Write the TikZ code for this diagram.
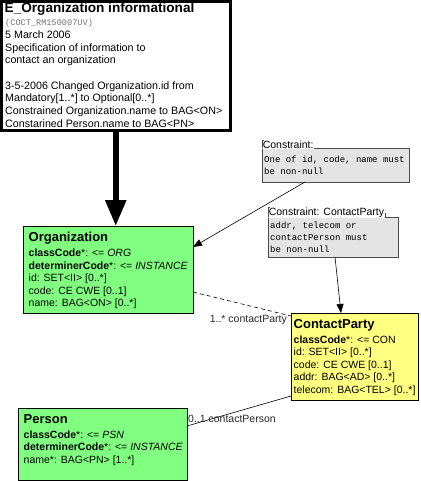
\documentclass[tikz,border=0pt]{standalone}
\usepackage{fontspec}
\setmainfont{Liberation Sans}
\setmonofont{Liberation Mono}
\usetikzlibrary{arrows.meta}
\usetikzlibrary{shadows}

\definecolor{classgreen}{HTML}{80FF80}
\definecolor{classyellow}{HTML}{FFFF80}
\definecolor{notegray}{HTML}{E4E4E4}

\tikzset{
	classbox/.style={draw, line width=0.8pt, anchor=north west, inner sep=0pt, outer sep=0pt},
	% anchored at the baseline of the last line
	classtext/.style={anchor=base west, align=left, inner sep=0pt, font=\fontsize{10.5}{12.6}\selectfont},
	notebox/.style={draw=black!70, fill=notegray, line width=0.8pt, anchor=north west, inner sep=0pt, outer sep=0pt,
		drop shadow={shadow xshift=1.2pt, shadow yshift=-1.2pt, fill=black!55, opacity=1}},
	notelabel/.style={fill=white, anchor=south west, inner sep=0.8pt, outer sep=0pt, font=\fontsize{10.5}{12}\selectfont},
	notetext/.style={anchor=base west, align=left, inner sep=0pt, font=\ttfamily\fontsize{9}{12}\selectfont},
	notetick/.style={draw=black!70, line width=0.6pt},
	rolelabel/.style={inner sep=0pt, font=\fontsize{10.5}{12}\selectfont, text=black!85},
	assoc/.style={line width=0.6pt},
	dep/.style={line width=0.6pt, -{Triangle[length=9pt,width=7pt]}}
}

\begin{document}
\begin{tikzpicture}[x=1pt,y=-1pt]
	\useasboundingbox (0,0) rectangle (420,481);
	
	% header note
	\node[draw, line width=3pt, anchor=north west, inner sep=0pt, outer sep=0pt,
		minimum width=228.5pt, minimum height=129.5pt] (hdr) at (1.5,1.5) {};
	\node[anchor=base west, inner sep=0pt, font=\bfseries\fontsize{13.6}{15}\selectfont] (hdrtitle) at (4.5,13) {E\_Organization informational};
	\node[anchor=base west, inner sep=0pt, font=\ttfamily\fontsize{8.6}{10}\selectfont, text=black!55] (hdrid) at (5,26) {(COCT\_RM150007UV)};
	\node[classtext, font=\fontsize{10.7}{12.7}\selectfont] (hdrbody) at (5,127.4) {5 March 2006\\Specification of information to\\contact an organization\\[12.7pt]3-5-2006 Changed Organization.id from\\Mandatory[1..*] to Optional[0..*]\\Constrained Organization.name to BAG<ON>\\Constarined Person.name to BAG<PN>};
	
	% classes
	\node[classbox, fill=classgreen, minimum width=170pt, minimum height=87pt] (org) at (23,226) {};
	\node[classtext] (orgtext) at (28.5,306.9) {{\bfseries\fontsize{13}{15}\selectfont Organization}\\[2.4pt]
		\textbf{classCode}*: <= \textit{ORG}\\\textbf{determinerCode}*: <= \textit{INSTANCE}\\id: SET<II> [0..*]\\code: CE CWE [0..1]\\name: BAG<ON> [0..*]};
	
	\node[classbox, fill=classyellow, minimum width=127pt, minimum height=87pt] (cp) at (291,313) {};
	\node[classtext] (cptext) at (293.5,393.4) {{\bfseries\fontsize{13}{15}\selectfont ContactParty}\\[2.4pt]
		\textbf{classCode}*: <= CON\\id: SET<II> [0..*]\\code: CE CWE [0..1]\\addr: BAG<AD> [0..*]\\telecom: BAG<TEL> [0..*]};
	
	\node[classbox, fill=classgreen, minimum width=169pt, minimum height=72pt] (person) at (18,408) {};
	\node[classtext] (persontext) at (23.5,463.2) {{\bfseries\fontsize{13}{15}\selectfont Person}\\[2.4pt]
		\textbf{classCode}*: <= \textit{PSN}\\\textbf{determinerCode}*: <= \textit{INSTANCE}\\name*: BAG<PN> [1..*]};
	
	% constraint notes
	\node[notebox, minimum width=147pt, minimum height=34pt] (c1) at (262,148) {};
	\node[notelabel] (c1lbl) at ([yshift=-1.2pt]c1.north west) {Constraint:};
	\draw[notetick] (c1.north west) -- (c1lbl.north west) -- ++(2,0);
	\node[notetext] (c1text) at (264,174) {One of id, code, name must\\be non-null};
	
	\node[notebox, minimum width=130pt, minimum height=40pt] (c2) at (268,217) {};
	\node[notelabel] (c2lbl) at ([yshift=-1.2pt]c2.north west) {Constraint: ContactParty};
	\draw[notetick] (c2.north west) -- (c2lbl.north west) -- ++(2,0);
	\draw[notetick] (c2lbl.south east) -- ++(0,-5);
	\node[notetext] (c2text) at (270,252.5) {addr, telecom or\\contactPerson must\\be non-null};
	
	% connectors
	\draw[line width=5.7pt, -{Triangle[length=26pt,width=20pt]}] (hdr.south) -- (org.north -| hdr.south);
	\draw[dep] ([xshift=43pt]c1.south west) -- ([yshift=-21pt]org.north east);
	\draw[dep] ([xshift=67pt]c2.south west) -- ([xshift=50pt]cp.north west);
	\draw[assoc, dash pattern=on 4pt off 3pt] ([yshift=-66pt]org.north east) -- ([yshift=-3pt]cp.north west);
	\draw[assoc] ([yshift=-18pt]person.north east) -- ([yshift=4pt]cp.south west);
	
	\node[rolelabel, anchor=base east] (partylbl) at (287,322.5) {1..* contactParty};
	\node[rolelabel, anchor=base west] (personlbl) at (188,422.5) {0..1 contactPerson};
\end{tikzpicture}
\end{document}
